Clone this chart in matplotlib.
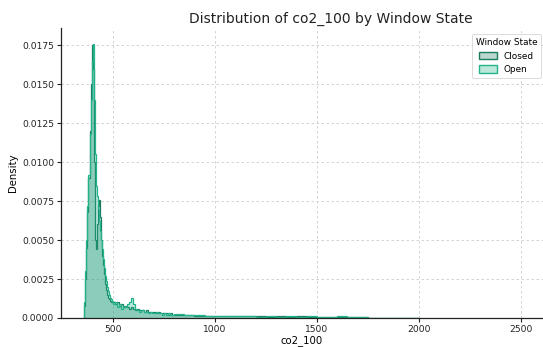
import numpy as np
import matplotlib
matplotlib.use("Agg")
import matplotlib.pyplot as plt
from matplotlib.patches import Patch

# ---- data (densities) ----
edges_peak = list(range(355, 505, 5))          # 355..500, 5-wide bins
edges_mid = list(range(510, 805, 10))          # 500..800, 10-wide bins
edges_tail = list(range(850, 2050, 50))        # 800..2000, 50-wide bins
edges = edges_peak + edges_mid + edges_tail

closed_peak = [0.0, 0.0008, 0.0025, 0.0045, 0.0068, 0.0090, 0.0120, 0.0150, 0.0175, 0.0160,
               0.0100, 0.0050, 0.0044, 0.0060, 0.0072, 0.0076, 0.0065, 0.0050, 0.0040, 0.0034,
               0.0028, 0.0022, 0.0018, 0.0015, 0.0013, 0.0012, 0.0011, 0.0010, 0.0010]
open_peak = [0.0, 0.0010, 0.0030, 0.0050, 0.0072, 0.0092, 0.0118, 0.0140, 0.0165, 0.0176,
             0.0140, 0.0105, 0.0085, 0.0078, 0.0070, 0.0062, 0.0056, 0.0050, 0.0044, 0.0038,
             0.0032, 0.0027, 0.0024, 0.0020, 0.0017, 0.0015, 0.0013, 0.0012, 0.0011]

closed_mid = [0.0010, 0.0009, 0.0010, 0.0008, 0.0009, 0.0007, 0.0008, 0.0007, 0.0006, 0.0007,
              0.0006, 0.0005, 0.0006, 0.0005, 0.0005, 0.0004, 0.0005, 0.0004, 0.0004, 0.0004,
              0.0004, 0.0003, 0.0004, 0.0003, 0.0003, 0.0003, 0.0003, 0.0002, 0.0003, 0.0002]
open_mid = [0.0009, 0.0010, 0.0007, 0.0009, 0.0006, 0.0008, 0.0007, 0.0009, 0.0010, 0.0013,
            0.0009, 0.0006, 0.0005, 0.0004, 0.0005, 0.0004, 0.0004, 0.0003, 0.0004, 0.0003,
            0.0003, 0.0004, 0.0003, 0.0003, 0.0002, 0.0003, 0.0002, 0.0003, 0.0002, 0.0002]

closed_tail = [0.00022, 0.00018, 0.00015, 0.00014, 0.00012, 0.00011, 0.00012, 0.00010,
               0.00011, 0.00009, 0.00010, 0.00009, 0.00010, 0.00008, 0.00009, 0.00008,
               0.00007, 0.00008, 0.00004, 0.00002, 0.0, 0.00001, 0.0, 0.00001]
open_tail = [0.00025, 0.00020, 0.00017, 0.00013, 0.00014, 0.00012, 0.00010, 0.00012,
             0.00009, 0.00011, 0.00008, 0.00010, 0.00009, 0.00011, 0.00008, 0.00009,
             0.00010, 0.00006, 0.00005, 0.00003, 0.00001, 0.00002, 0.00001, 0.0]

closed_density = closed_peak + closed_mid + closed_tail
open_density = open_peak + open_mid + open_tail

states = ["Closed", "Open"]
colors = {"Closed": "#1c7c60", "Open": "#22b38b"}
yticks = [0.0, 0.0025, 0.005, 0.0075, 0.01, 0.0125, 0.015, 0.0175]
xticks = [500, 1000, 1500, 2000, 2500]

# ---- plot ----
fig = plt.figure(figsize=(5.43, 3.47), dpi=100)
ax = fig.add_axes([0.1123, 0.0836, 0.8877, 0.8354])

series = {"Closed": closed_density, "Open": open_density}
for s in states:
    vals = np.array(series[s])
    ax.stairs(vals, edges, fill=True, color=colors[s], alpha=0.3, linewidth=0)
    ax.stairs(vals, edges, fill=False, color=colors[s], linewidth=0.9)

ax.set_xlim(245, 2610)
ax.set_ylim(0, 0.0186)
ax.set_xticks(xticks)
ax.set_yticks(yticks)
ax.set_yticklabels([f"{v:.4f}" for v in yticks])
ax.tick_params(labelsize=6.6, length=3, width=0.8, pad=2, colors="#222222")

ax.grid(True, linestyle=(0, (3, 3)), color="#cccccc", linewidth=0.6)
ax.set_axisbelow(True)
for sp in ["top", "right"]:
    ax.spines[sp].set_visible(False)
for sp in ["left", "bottom"]:
    ax.spines[sp].set_color("#222222")
    ax.spines[sp].set_linewidth(0.9)

ax.set_title("Distribution of co2_100 by Window State", fontsize=10, color="#222222",
             pad=4, x=0.56)
ax.set_xlabel("co2_100", fontsize=7.3, labelpad=1)
ax.set_ylabel("Density", fontsize=7.3, labelpad=3)

handles = [Patch(facecolor=matplotlib.colors.to_rgba(colors[s], 0.3),
                 edgecolor=colors[s], linewidth=1.0) for s in states]
leg = ax.legend(handles, states, title="Window State", loc="upper right",
                fontsize=6.4, title_fontsize=6.4, frameon=True, fancybox=True,
                borderpad=0.45, handlelength=2.0, handleheight=0.9,
                borderaxespad=0.2, bbox_to_anchor=(1.0, 0.985))
leg.get_frame().set_edgecolor("#cccccc")
leg.get_frame().set_linewidth(0.6)

fig.savefig("out.png", dpi=100)
